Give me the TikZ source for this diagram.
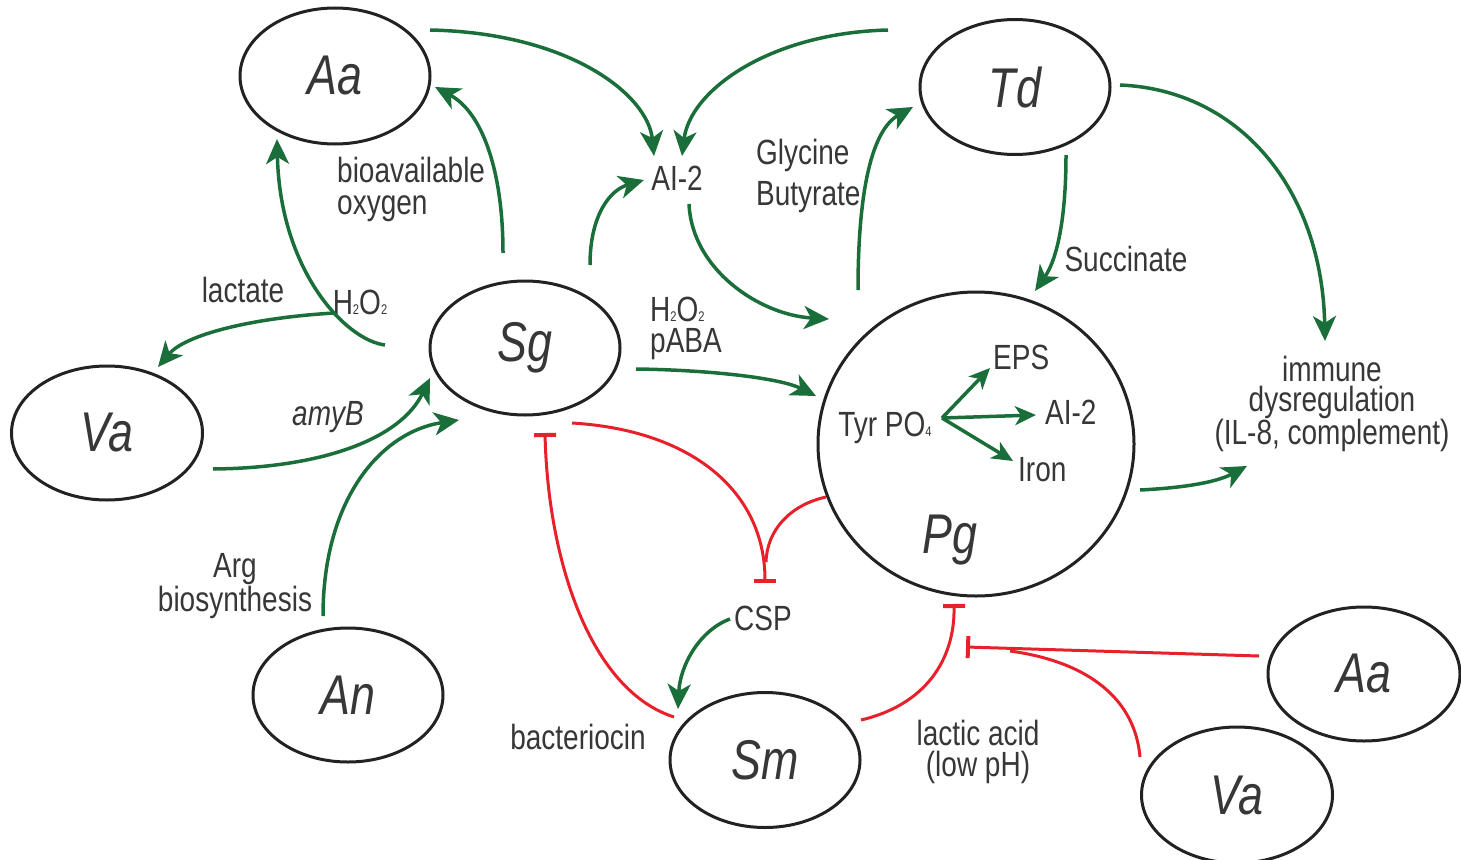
\documentclass[tikz,border=0pt]{standalone}
\usepackage{fontspec}
\setmainfont{Liberation Sans}[FakeStretch=0.8]
\usetikzlibrary{arrows.meta,shapes.geometric}
\definecolor{grn}{RGB}{26,110,58}
\definecolor{rd}{RGB}{232,32,42}
\definecolor{txt}{RGB}{55,55,55}
\definecolor{edge}{RGB}{34,34,34}
\newcommand\subsc[1]{{\fontsize{14}{14}\selectfont #1}}
\begin{document}
\begin{tikzpicture}[x=1pt,y=-1pt,
  bug/.style={ellipse, draw=edge, line width=3pt, fill=white, inner sep=0pt,
    font=\fontsize{56}{56}\selectfont\itshape, text=txt},
  lbl/.style={font=\fontsize{35}{30}\selectfont, text=txt, inner sep=0pt},
  act/.style={draw=grn, line width=3.5pt, -{Stealth[length=25pt,width=23pt,inset=7pt]}},
  actsmall/.style={draw=grn, line width=3.5pt, -{Stealth[length=21pt,width=19pt,inset=6pt]}},
  inh/.style={draw=rd, line width=3pt, -{Bar[width=22pt,line width=4pt]}},
  inhline/.style={draw=rd, line width=3pt}]
\path[use as bounding box] (0,0) rectangle (1461,859);

% bacteria
\node[bug, minimum width=190pt, minimum height=136pt] (AaT) at (335,76) {Aa};
\node[bug, minimum width=190pt, minimum height=135pt] (Td) at (1015,87) {Td};
\node[bug, minimum width=190pt, minimum height=134pt] (Sg) at (525,348) {Sg};
\node[bug, minimum width=191pt, minimum height=134pt] (VaL) at (107,433) {Va};
\node[bug, minimum width=316pt, minimum height=304pt] (Pg) at (976,444) {};
\node[bug, minimum width=190pt, minimum height=134pt] (An) at (348,695) {An};
\node[bug, minimum width=190pt, minimum height=135pt] (Sm) at (765,760) {Sm};
\node[bug, minimum width=192pt, minimum height=134pt] (AaR) at (1364,674) {Aa};
\node[bug, minimum width=191pt, minimum height=136pt] (VaR) at (1237,795) {Va};
\node[font=\fontsize{56}{56}\selectfont\itshape, text=txt, inner sep=0pt] (PgL) at (950,540) {Pg};

% labels
\node[lbl] (ai2) at (677,178) {AI-2};
\node[lbl, anchor=west, align=left, font=\fontsize{35}{41}\selectfont] (glyc) at (756,176) {Glycine\\Butyrate};
\node[lbl, anchor=west, align=left, font=\fontsize{35}{32}\selectfont] (bio) at (337,189) {bioavailable\\oxygen};
\node[lbl] (lac) at (243,290) {lactate};
\node[lbl] (hoa) at (360,302) {H\subsc{2}O\subsc{2}};
\node[lbl, anchor=west, align=left, font=\fontsize{35}{31}\selectfont] (hob) at (650,328) {H\subsc{2}O\subsc{2}\\pABA};
\node[lbl] (succ) at (1126,259) {Succinate};
\node[lbl, align=center, font=\fontsize{35}{30}\selectfont] (imm) at (1332,404) {immune\\dysregulation\\(IL-8, complement)};
\node[lbl] (tyr) at (885,428) {Tyr PO\subsc{4}};
\node[lbl, anchor=west] (eps) at (993,357) {EPS};
\node[lbl, anchor=west] (aib) at (1045,412) {AI-2};
\node[lbl, anchor=west] (iron) at (1018,470) {Iron};
\node[lbl, font=\fontsize{35}{30}\selectfont\itshape] (amy) at (328,417) {amyB};
\node[lbl, align=center, font=\fontsize{35}{29}\selectfont] (arg) at (235,586) {Arg\\biosynthesis};
\node[lbl] (csp) at (763,618) {CSP};
\node[lbl] (bac) at (578,737) {bacteriocin};
\node[lbl, align=center, font=\fontsize{35}{31}\selectfont] (lact) at (978,752) {lactic acid\\(low pH)};

% coordinates for free ends
\coordinate (a1s) at (430,30);  \coordinate (a1e) at (654,156);
\coordinate (a2s) at (888,30);  \coordinate (a2e) at (682,156);
\coordinate (a3s) at (590,265); \coordinate (a3e) at (644,180);
\coordinate (a4s) at (689,204); \coordinate (a4e) at (829,319);
\coordinate (a5s) at (858,290); \coordinate (a5e) at (913,107);
\coordinate (a6s) at (1066,155); \coordinate (a6e) at (1035,291);
\coordinate (a7s) at (1120,85); \coordinate (a7e) at (1325,341);
\coordinate (a8s) at (1140,490); \coordinate (a8e) at (1247,466);
\coordinate (a9s) at (636,369); \coordinate (a9e) at (816,396);
\coordinate (a10s) at (503,253); \coordinate (a10e) at (435,87);
\coordinate (a11s) at (385,345); \coordinate (a11e) at (277,139);
\coordinate (a12e) at (158,367);
\coordinate (a13s) at (213,469); \coordinate (a13e) at (430,378);
\coordinate (a14s) at (323,616); \coordinate (a14e) at (459,420);
\coordinate (a15s) at (730,619); \coordinate (a15e) at (678,709);
\coordinate (tyrc) at (942,418);
\coordinate (epse) at (990,368); \coordinate (aibe) at (1036,415); \coordinate (irne) at (1013,461);

% green activation arrows
\draw[act] (a1s) .. controls (570,33) and (648,95) .. (a1e);
\draw[act] (a2s) .. controls (770,33) and (690,90) .. (a2e);
\draw[act] (a3s) .. controls (590,215) and (610,190) .. (a3e);
\draw[act] (a4s) .. controls (692,270) and (760,315) .. (a4e);
\draw[act] (a5s) .. controls (858,190) and (872,130) .. (a5e);
\draw[act] (a6s) .. controls (1066,215) and (1058,258) .. (a6e);
\draw[act] (a7s) .. controls (1240,90) and (1322,190) .. (a7e);
\draw[act] (a8s) .. controls (1180,488) and (1215,483) .. (a8e);
\draw[act] (a9s) .. controls (710,370) and (780,378) .. (a9e);
\draw[act] (a10s) .. controls (503,170) and (482,112) .. (a10e);
\draw[act] (a11s) .. controls (345,340) and (280,270) .. (a11e) coordinate[pos=0.37] (br);
\draw[act] (br) .. controls (250,318) and (185,335) .. (a12e);
\draw[act] (a13s) .. controls (320,468) and (400,440) .. (a13e);
\draw[act] (a14s) .. controls (323,500) and (380,432) .. (a14e);
\draw[act] (a15s) .. controls (700,630) and (680,665) .. (a15e);
\draw[actsmall] (tyrc) -- (epse);
\draw[actsmall] (tyrc) -- (aibe);
\draw[actsmall] (tyrc) -- (irne);

% red inhibition
\coordinate (r1s) at (674,717); \coordinate (r1e) at (545,433);
\coordinate (r2s) at (572,423); \coordinate (r2e) at (765,583);
\coordinate (r3s) at (826,497); \coordinate (r3j) at (766,562);
\coordinate (r4s) at (861,720); \coordinate (r4e) at (954,604);
\coordinate (r5s) at (1259,656); \coordinate (r5e) at (966,647);
\coordinate (r6s) at (1140,757); \coordinate (r6j) at (1010,651);
\draw[inh] (r1s) .. controls (590,690) and (548,560) .. (r1e);
\draw[inh] (r2s) .. controls (690,430) and (765,490) .. (r2e);
\draw[inhline] (r3s) .. controls (790,505) and (767,530) .. (r3j);
\draw[inh] (r4s) .. controls (925,705) and (955,660) .. (r4e);
\draw[inh] (r5s) -- (r5e);
\draw[inhline] (r6s) .. controls (1135,700) and (1090,662) .. (r6j);
\end{tikzpicture}
\end{document}
